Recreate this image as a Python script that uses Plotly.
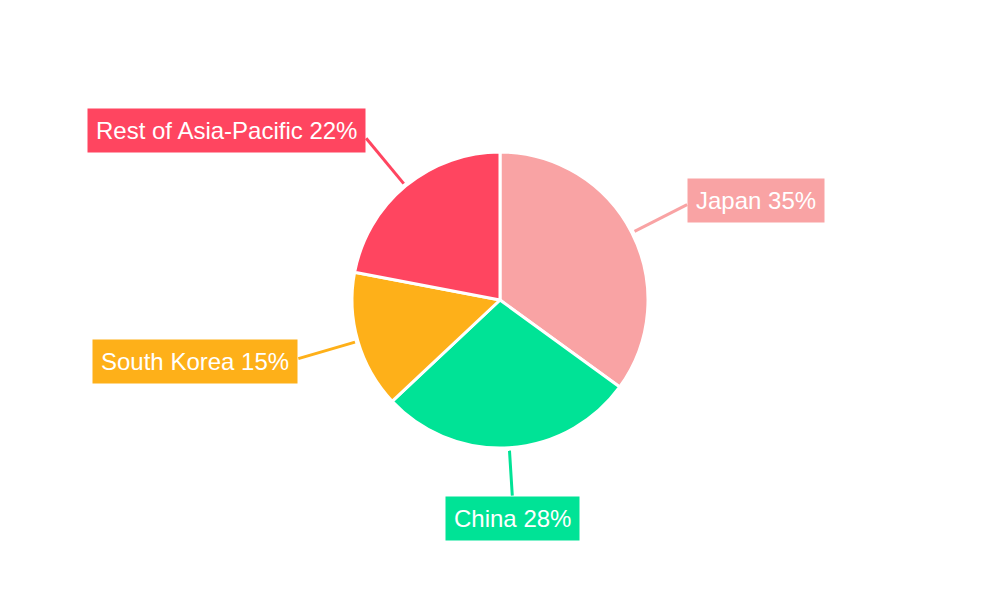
import math
import plotly.graph_objects as go

# Asia-Pacific market share
regions = ["Japan", "China", "South Korea", "Rest of Asia-Pacific"]
shares = [35, 28, 15, 22]
colors = ["#F9A3A4", "#00E396", "#FEB019", "#FF4560"]

W, H = 1000, 600
# the page body adds an 8px offset, so the centre is pulled back by that
cx, cy, radius = 492, 292, 148

fig = go.Figure()
fig.add_trace(go.Pie(
	labels=regions,
	values=shares,
	sort=False,
	direction="clockwise",
	rotation=0,
	textinfo="none",
	hoverinfo="label+percent",
	marker=dict(colors=colors, line=dict(color="white", width=3)),
	domain=dict(x=[(cx - radius) / W, (cx + radius) / W],
				y=[(H - cy - radius) / H, (H - cy + radius) / H]),
	showlegend=False,
))

def px(x, y):
	# pixel position -> paper coords
	return x / W, 1 - y / H

# outside labels with leader lines, placed along each slice's mid angle
annotations = []
shapes = []
total = float(sum(shares))
start = 0.0
for name, val, col in zip(regions, shares, colors):
	mid = (start + val / 2.0) / total * 2 * math.pi
	start += val
	dx, dy = math.sin(mid), -math.cos(mid)
	r0 = radius + 3
	if abs(dx) > 0.5:
		r1 = 210
		xanchor = "left" if dx > 0 else "right"
		yanchor = "middle"
		shift = -10 * dy
	else:
		r1 = 196
		xanchor = "center"
		yanchor = "top" if dy > 0 else "bottom"
		shift = 0
	x0, y0 = px(cx + r0 * dx, cy + r0 * dy)
	x1, y1 = px(cx + r1 * dx, cy + r1 * dy)
	shapes.append(dict(type="line", xref="paper", yref="paper",
		x0=x0, y0=y0, x1=x1, y1=y1, line=dict(color=col, width=3)))
	annotations.append(dict(
		x=x1, y=y1, xref="paper", yref="paper",
		showarrow=False, yshift=shift,
		xanchor=xanchor, yanchor=yanchor,
		text="%s %d%%" % (name, round(val / total * 100)),
		font=dict(family="Liberation Sans, Arial, sans-serif", size=24, color="white"),
		bgcolor=col, borderpad=8,
	))

fig.update_layout(
	width=W, height=H,
	margin=dict(l=0, r=0, t=0, b=0),
	paper_bgcolor="white",
	plot_bgcolor="white",
	annotations=annotations,
	shapes=shapes,
)
fig.write_html("out.html")
